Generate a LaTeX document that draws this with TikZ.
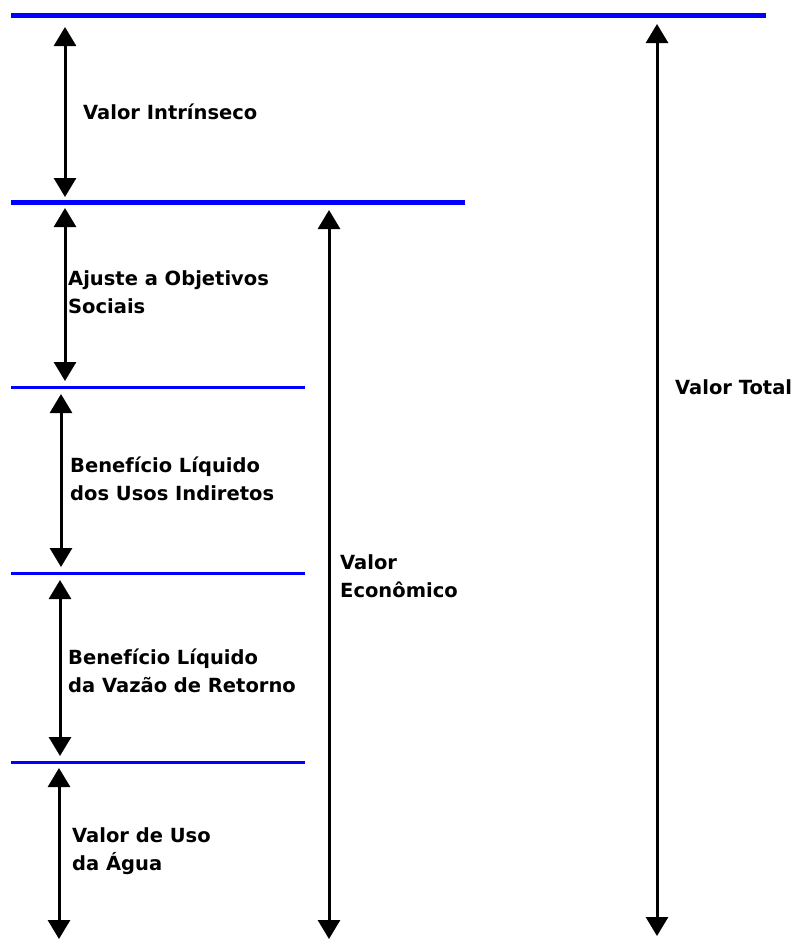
\documentclass[tikz,border=0pt]{standalone}
\usepackage{fontspec}
\setmainfont{DejaVu Sans}
\usetikzlibrary{arrows.meta}

\begin{document}
\begin{tikzpicture}
          [x=1pt,y=-1pt,
          level/.style={draw=blue,line width=5pt},
          sublevel/.style={draw=blue,line width=3pt},
          span/.style={{Triangle[width=22pt,length=19pt]}-{Triangle[width=22pt,length=19pt]},line width=3pt},
          label/.style={anchor=west,align=left,inner sep=0pt,font=\bfseries\fontsize{19.5}{28}\selectfont}]
          \useasboundingbox (0,0) rectangle (794,943);
          % levels
          \draw[level]    (11,15)  -- (766,15);
          \draw[level]    (11,202) -- (465,202);
          \draw[sublevel] (11,387) -- (305,387);
          \draw[sublevel] (11,573) -- (305,573);
          \draw[sublevel] (11,762) -- (305,762);
          % arrow ends
          \coordinate (intr-t) at (65,27);  \coordinate (intr-b) at (65,197);
          \coordinate (ajus-t) at (65,208); \coordinate (ajus-b) at (65,381);
          \coordinate (indi-t) at (61,394); \coordinate (indi-b) at (61,567);
          \coordinate (reto-t) at (60,580); \coordinate (reto-b) at (60,756);
          \coordinate (agua-t) at (59,768); \coordinate (agua-b) at (59,939);
          \coordinate (econ-t) at (329,210); \coordinate (econ-b) at (329,939);
          \coordinate (total-t) at (657,24); \coordinate (total-b) at (657,936);
          \draw[span] (intr-t) -- (intr-b);
          \draw[span] (ajus-t) -- (ajus-b);
          \draw[span] (indi-t) -- (indi-b);
          \draw[span] (reto-t) -- (reto-b);
          \draw[span] (agua-t) -- (agua-b);
          \draw[span] (econ-t) -- (econ-b);
          \draw[span] (total-t) -- (total-b);
          % labels
          \node[label] (intrinseco) at (83,112) {Valor Intrínseco};
          \node[label] (ajuste)     at (68,292) {Ajuste a Objetivos\\Sociais};
          \node[label] (indiretos)  at (70,479) {Benefício Líquido\\dos Usos Indiretos};
          \node[label] (retorno)    at (68,671) {Benefício Líquido\\da Vazão de Retorno};
          \node[label] (agua)       at (72,851) {Valor de Uso\\da Água};
          \node[label] (economico)  at (340,576) {Valor\\Econômico};
          \node[label] (total)      at (675,387) {Valor Total};
\end{tikzpicture}
\end{document}
